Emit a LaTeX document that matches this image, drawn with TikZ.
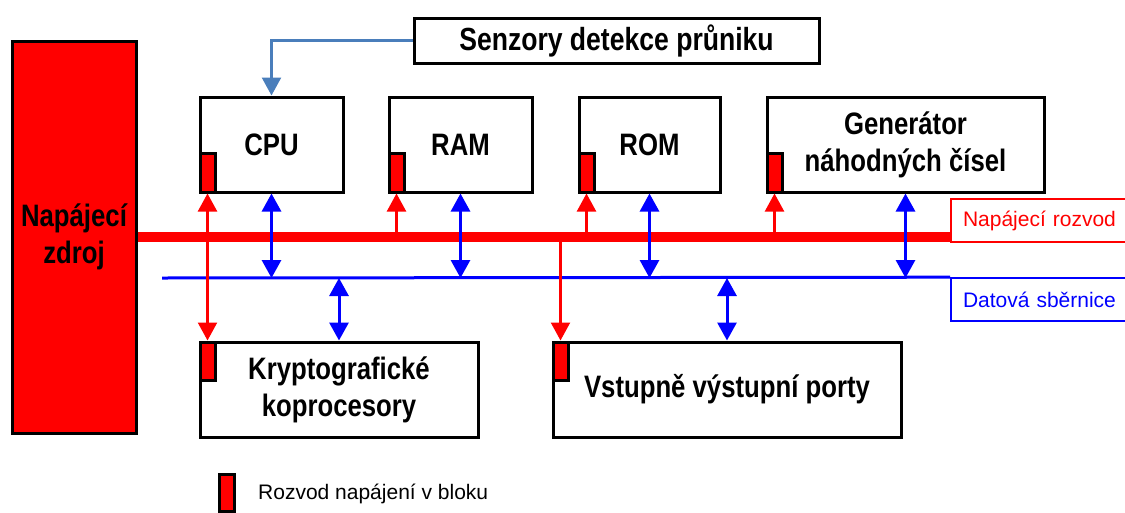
\documentclass[tikz,border=0pt]{standalone}
\usepackage{fontspec}
\setmainfont{Liberation Sans}
\newfontfamily\nb[FakeStretch=0.83]{Liberation Sans}
\usetikzlibrary{arrows.meta}
\definecolor{pwrred}{RGB}{255,0,0}
\definecolor{busblue}{RGB}{0,0,255}
\definecolor{steel}{RGB}{74,126,187}

\begin{document}
\begin{tikzpicture}[x=1pt,y=-1pt,
  >={Triangle[length=18pt,width=19pt]},
  blk/.style={draw=black, line width=3pt, fill=white, inner sep=0pt,
    minimum height=95pt, align=center,
    font=\nb\bfseries\fontsize{31}{37}\selectfont},
  pwr/.style={draw=black, line width=3pt, fill=pwrred, inner sep=0pt,
    minimum width=15pt, minimum height=#1},
  pwr/.default=39pt,
  lab/.style={draw=#1, text=#1, line width=1.6pt, fill=white,
    minimum height=43pt, text width=155pt, inner xsep=12pt, align=left,
    font=\fontsize{21}{25}\selectfont},
  parr/.style={draw=pwrred, line width=2.3pt},
  darr/.style={draw=busblue, line width=3pt, <->}
]
\useasboundingbox (0,0) rectangle (1125,512);

% power supply
\node[blk, fill=pwrred, minimum width=124pt, minimum height=392pt] (src) at (74,237)
  {Napájecí\\zdroj};

% bus labels
\node[lab=pwrred] (plab) at (1040.5,220.5) {Napájecí rozvod};
\node[lab=busblue] (dlab) at (1040.5,299.5) {Datová sběrnice};

% buses
\coordinate (dbl) at (162,278);
\draw[pwrred, line width=10pt] (src.east) -- (src.east -| plab.west);
\draw[busblue, line width=3pt] (dbl) -- (dlab.north west);

% blocks
\node[blk, minimum width=405pt, minimum height=45pt,
  font=\nb\bfseries\fontsize{32}{38}\selectfont] (sen) at (616.5,40.5) {Senzory detekce průniku};
\node[blk, minimum width=143pt] (cpu) at (271.5,144.5) {CPU};
\node[blk, minimum width=143pt] (ram) at (460.5,144.5) {RAM};
\node[blk, minimum width=141pt] (rom) at (649.5,144.5) {ROM};
\node[blk, minimum width=277pt] (gen) at (905.5,144.5) {Generátor\\náhodných čísel};
\node[blk, minimum width=278pt] (kry) at (339,389.5) {Kryptografické\\koprocesory};
\node[blk, minimum width=348pt] (prt) at (727,389.5) {Vstupně výstupní porty};

% power inputs inside the blocks
\node[pwr, anchor=south west] (cpup) at (cpu.south west) {};
\node[pwr, anchor=south west] (ramp) at (ram.south west) {};
\node[pwr, anchor=south west] (romp) at (rom.south west) {};
\node[pwr, anchor=south west] (genp) at (gen.south west) {};
\node[pwr=38pt, anchor=north west] (kryp) at (kry.north west) {};
\node[pwr=38pt, anchor=north west] (prtp) at (prt.north west) {};

% sensor link
\draw[steel, line width=2.4pt, ->] (sen.west) -| (cpu.north);

% power distribution
\draw[parr, <->] (cpup.south) -- (kryp.north);
\draw[parr, ->] (ramp.south |- src.east) -- (ramp.south);
\draw[parr, ->] (romp.south |- src.east) -- (romp.south);
\draw[parr, ->] (genp.south |- src.east) -- (genp.south);
\draw[parr, ->] (prtp.north |- src.east) -- (prtp.north);

% data connections
\draw[darr] (cpu.south) -- (cpu.south |- dbl);
\draw[darr] (ram.south) -- (ram.south |- dbl);
\draw[darr] (rom.south) -- (rom.south |- dbl);
\draw[darr] (gen.south) -- (gen.south |- dbl);
\draw[darr] (kry.north |- dbl) -- (kry.north);
\draw[darr] (prt.north |- dbl) -- (prt.north);

% legend
\node[pwr=37pt] (legp) at (226.5,492.5) {};
\node[anchor=west, inner sep=0pt, font=\fontsize{21}{25}\selectfont] (legt) at (258,494)
  {Rozvod napájení v bloku};
\end{tikzpicture}
\end{document}
